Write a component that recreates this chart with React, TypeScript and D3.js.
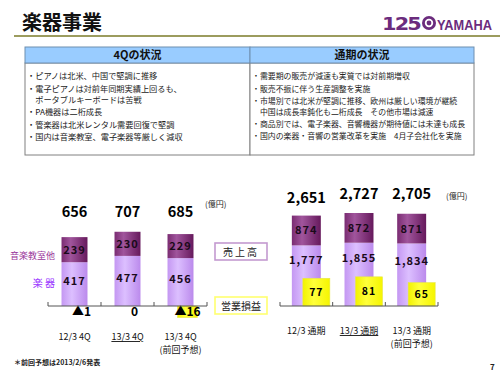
import React from "react";
import * as d3 from "d3";

// ---- data ----
const quarterCats = ["12/3 4Q", "13/3 4Q", "13/3 4Q"];
const quarterSub = ["", "", "(前回予想)"];
const quarterUnderline = [false, true, false];
const quarterInstruments = [417, 477, 456];
const quarterSchool = [239, 230, 229];
const quarterTotals = [656, 707, 685];
const quarterProfit = [-1, 0, -16];

const yearCats = ["12/3 通期", "13/3 通期", "13/3 通期"];
const yearSub = ["", "", "(前回予想)"];
const yearUnderline = [false, true, false];
const yearInstruments = [1777, 1855, 1834];
const yearSchool = [874, 872, 871];
const yearTotals = [2651, 2727, 2705];
const yearProfit = [77, 81, 65];

const leftTitle = "4Qの状況";
const rightTitle = "通期の状況";
const leftLines = [
  "・ピアノは北米、中国で堅調に推移",
  "・電子ピアノは対前年同期実績上回るも、",
  "　ポータブルキーボードは苦戦",
  "・PA機器は二桁成長",
  "・管楽器は北米レンタル需要回復で堅調",
  "・国内は音楽教室、電子楽器等厳しく減収",
];
const rightLines = [
  "・需要期の販売が減速も実質では対前期増収",
  "・販売不振に伴う生産調整を実施",
  "・市場別では北米が堅調に推移、欧州は厳しい環境が継続",
  "　中国は成長率鈍化も二桁成長　その他市場は減速",
  "・商品別では、電子楽器、音響機器が期待値には未達も成長",
  "・国内の楽器・音響の営業改革を実施　4月子会社化を実施",
];

const JP = "'Noto Sans CJK JP', 'Noto Sans', sans-serif";
const fmt = d3.format(",");
const fmtProfit = (v: number) => (v < 0 ? "▲" + fmt(-v) : fmt(v));

const BASE = 306;

function Chart(props: {
  cats: string[];
  subs: string[];
  underline: boolean[];
  inst: number[];
  school: number[];
  totals: number[];
  profit: number[];
  range: [number, number];
  salesMax: number;
  salesTop: number;
  profitPx: number;
  barFrac: number;
  profitOffset: number;
  profitWidth: number;
  totalY: number[];
  instLabelMode: "center" | "aboveProfit";
  catY: number;
  profitLabelInside: boolean;
}) {
  const p = props;
  const x = d3.scaleBand<number>().domain(d3.range(p.cats.length)).range(p.range).padding(0);
  const y = d3.scaleLinear().domain([0, p.salesMax]).range([BASE, p.salesTop]);
  const yp = d3.scaleLinear().domain([0, 100]).range([BASE, BASE - 100 * p.profitPx]);
  const bw = x.bandwidth() * p.barFrac;
  const ticks = [...p.cats.map((_, i) => x(i)!), p.range[1]];
  return (
    <g>
      {p.cats.map((c, i) => {
        const cx = x(i)! + x.bandwidth() / 2;
        const bx = cx - bw / 2;
        const yInst = y(p.inst[i]);
        const yTop = y(p.inst[i] + p.school[i]);
        const pv = p.profit[i];
        const py0 = yp(Math.max(0, pv));
        const py1 = yp(Math.min(0, pv));
        const px = bx + p.profitOffset;
        const instLabelY =
          p.instLabelMode === "center" ? (yInst + BASE) / 2 + 1 : (yInst + py0) / 2 + 2;
        return (
          <g key={i}>
            <rect x={bx} y={yInst} width={bw} height={BASE - yInst} fill="url(#gLight)" />
            <rect x={bx} y={yTop} width={bw} height={yInst - yTop} fill="url(#gDark)" />
            {Math.abs(py1 - py0) > 0.9 && (
              <rect
                x={px}
                y={py0}
                width={p.profitWidth}
                height={py1 - py0}
                fill="url(#gYellow)"
                stroke="#e6e64d"
                strokeWidth={0.6}
              />
            )}
            <text x={cx} y={(yTop + yInst) / 2 + 4} textAnchor="middle" fontFamily={JP} fontWeight="bold" fontSize={11} letterSpacing={1} fill="#1a0a1a">
              {fmt(p.school[i])}
            </text>
            <text x={cx} y={instLabelY} textAnchor="middle" fontFamily={JP} fontWeight="bold" fontSize={11} letterSpacing={1} fill="#1a0a1a">
              {fmt(p.inst[i])}
            </text>
            <text x={cx} y={p.totalY[i]} textAnchor="middle" fontFamily={JP} fontWeight="bold" fontSize={14.5} fill="#000">
              {fmt(p.totals[i])}
            </text>
            {p.profitLabelInside ? (
              <text x={px + p.profitWidth / 2} y={(py0 + BASE) / 2 + 4} textAnchor="middle" fontFamily={JP} fontWeight="bold" fontSize={10.5} letterSpacing={1} fill="#000">
                {fmtProfit(pv)}
              </text>
            ) : (
              <text x={px + p.profitWidth / 2} y={BASE + 10} textAnchor="middle" fontFamily={JP} fontWeight="bold" fontSize={12} fill="#000">
                {fmtProfit(pv)}
              </text>
            )}
            <text x={cx} y={p.catY} textAnchor="middle" fontFamily={JP} fontSize={9} fill="#111" textDecoration={p.underline[i] ? "underline" : undefined}>
              {c}
            </text>
            {p.subs[i] && (
              <text x={cx} y={p.catY + 13} textAnchor="middle" fontFamily={JP} fontSize={9} fill="#111">
                {p.subs[i]}
              </text>
            )}
          </g>
        );
      })}
      <line x1={p.range[0]} x2={p.range[1]} y1={BASE} y2={BASE} stroke="#555" strokeWidth={1} />
      {ticks.map((t, i) => (
        <line key={i} x1={t} x2={t} y1={BASE} y2={BASE - 4} stroke="#555" strokeWidth={1} />
      ))}
    </g>
  );
}

function Panel(props: { x: number; w: number; title: string; lines: string[]; ys: number[]; fs: number }) {
  const { x, w, title, lines, ys, fs } = props;
  return (
    <g>
      <rect x={x} y={63} width={w} height={92} fill="#fff" stroke="#808080" strokeWidth={1} />
      <rect x={x} y={47} width={w} height={16} fill="#99ccff" stroke="#6f8fb0" strokeWidth={1} />
      <text x={x + w / 2} y={59} textAnchor="middle" fontFamily={JP} fontWeight="bold" fontSize={11} fill="#111">
        {title}
      </text>
      {lines.map((l, i) => (
        <text key={i} x={x + 2} y={ys[i]} fontFamily={JP} fontSize={fs} fill="#222">
          {l}
        </text>
      ))}
    </g>
  );
}

export default function App() {
  return (
    <svg width={500} height={375} style={{ position: "absolute", left: 0, top: 0, background: "#fff" }}>
      <defs>
        <linearGradient id="gDark" x1="0" x2="1" y1="0" y2="0">
          <stop offset="0" stopColor="#7a2c72" />
          <stop offset="0.35" stopColor="#a0559c" />
          <stop offset="1" stopColor="#66195c" />
        </linearGradient>
        <linearGradient id="gLight" x1="0" x2="1" y1="0" y2="0">
          <stop offset="0" stopColor="#c497f2" />
          <stop offset="0.4" stopColor="#dcbfff" />
          <stop offset="1" stopColor="#bb8aec" />
        </linearGradient>
        <linearGradient id="gYellow" x1="0" x2="1" y1="0" y2="0">
          <stop offset="0" stopColor="#f2f200" />
          <stop offset="0.4" stopColor="#ffff3a" />
          <stop offset="1" stopColor="#f5f500" />
        </linearGradient>
      </defs>
      <rect x={0} y={0} width={500} height={375} fill="#fff" />

      {/* Title */}
      <text x={22} y={30} fontFamily={JP} fontWeight="bold" fontSize={20} fill="#111">
        楽器事業
      </text>
      <line x1={14} x2={500} y1={36} y2={36} stroke="#9c9c5e" strokeWidth={2} />

      {/* Logo */}
      <g fill="#6b2c7d">
        <text x={382} y={30} fontFamily="'DejaVu Sans', sans-serif" fontWeight="bold" fontSize={17} letterSpacing={-1.5} textLength={38} lengthAdjust="spacingAndGlyphs">
          125
        </text>
        <circle cx={429} cy={23} r={7} />
        <circle cx={429} cy={23} r={4.2} fill="#fff" />
        <circle cx={429} cy={23} r={2.4} fill="#6b2c7d" />
        <text x={437} y={30} fontFamily="'Liberation Sans', sans-serif" fontWeight="bold" fontSize={14} textLength={55} lengthAdjust="spacingAndGlyphs">
          YAMAHA
        </text>
      </g>

      {/* Panels */}
      <Panel x={25} w={225} title={leftTitle} lines={leftLines} ys={[79, 92, 103, 115, 128, 140]} fs={8.2} />
      <Panel x={250} w={224} title={rightTitle} lines={rightLines} ys={[79, 92, 104, 115, 127, 139]} fs={7.9} />

      {/* left labels */}
      <text x={55} y={259} textAnchor="end" fontFamily={JP} fontSize={9} fill="#993399">
        音楽教室他
      </text>
      <text x={55} y={287} textAnchor="end" fontFamily={JP} fontSize={10} fill="#9933ff">
        楽 器
      </text>

      {/* legend boxes */}
      <rect x={215} y={243} width={52} height={17} fill="#fff" stroke="#c49ad0" strokeWidth={1.6} />
      <text x={241} y={255.5} textAnchor="middle" fontFamily={JP} fontSize={10} fill="#222" letterSpacing={2}>
        売上高
      </text>
      <rect x={215} y={297} width={52} height={17} fill="#fff" stroke="#ffff70" strokeWidth={1.6} />
      <text x={241} y={309.5} textAnchor="middle" fontFamily={JP} fontSize={10} fill="#222">
        営業損益
      </text>

      {/* units */}
      <text x={205} y={207} fontFamily={JP} fontSize={8} fill="#222">(億円)</text>
      <text x={446} y={199} fontFamily={JP} fontSize={8} fill="#222">(億円)</text>

      <Chart
        cats={quarterCats}
        subs={quarterSub}
        underline={quarterUnderline}
        inst={quarterInstruments}
        school={quarterSchool}
        totals={quarterTotals}
        profit={quarterProfit}
        range={[48, 207]}
        salesMax={700}
        salesTop={232.5}
        profitPx={0.72}
        barFrac={0.49}
        profitOffset={10}
        profitWidth={20}
        totalY={[217, 217, 217]}
        instLabelMode="center"
        catY={340}
        profitLabelInside={false}
      />
      <Chart
        cats={yearCats}
        subs={yearSub}
        underline={yearUnderline}
        inst={yearInstruments}
        school={yearSchool}
        totals={yearTotals}
        profit={yearProfit}
        range={[280, 438]}
        salesMax={2727}
        salesTop={213}
        profitPx={0.36}
        barFrac={0.55}
        profitOffset={11}
        profitWidth={27}
        totalY={[203, 199, 199]}
        instLabelMode="aboveProfit"
        catY={334}
        profitLabelInside={true}
      />

      {/* footnote */}
      <text x={14} y={365} fontFamily={JP} fontSize={7} fontWeight="bold" fill="#222">
        ＊前回予想は2013/2/6発表
      </text>
      <text x={490} y={370} fontFamily={JP} fontSize={8} fontWeight="bold" fill="#222">
        7
      </text>
    </svg>
  );
}
